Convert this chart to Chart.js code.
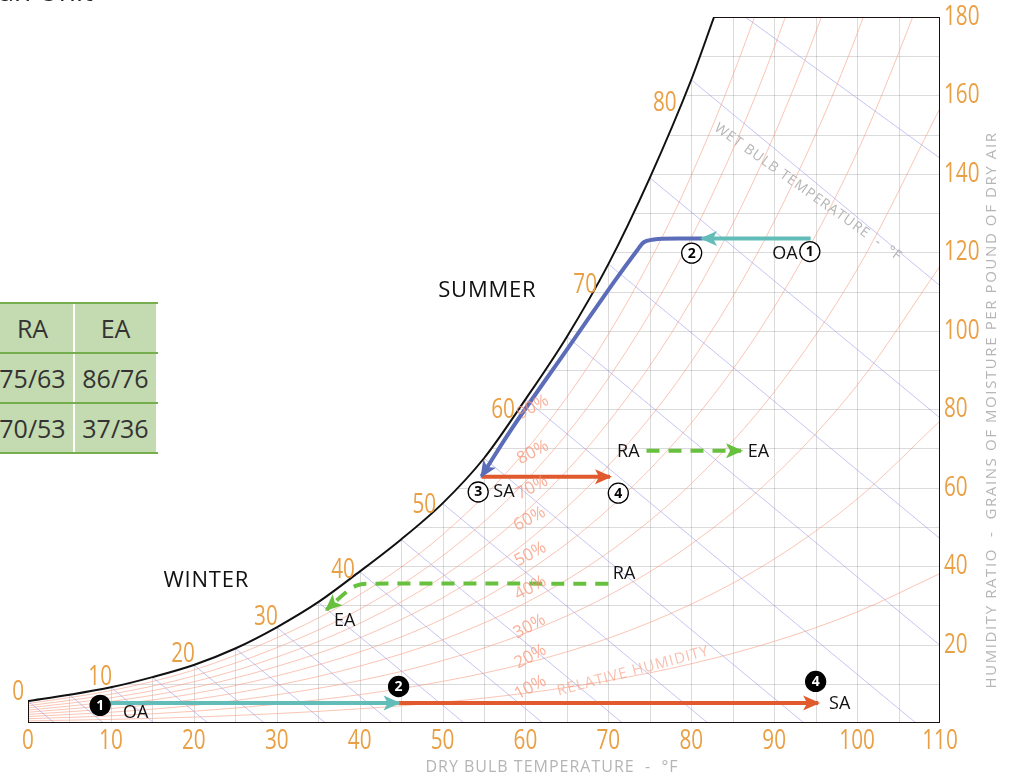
<!DOCTYPE html>
<html>
<head>
<meta charset="utf-8">
<script src="https://cdn.jsdelivr.net/npm/chart.js@4.4.1/dist/chart.umd.min.js"></script>
<style>
  html, body { margin: 0; padding: 0; background: #fff; overflow: hidden; }
  #wrap { position: relative; width: 1011px; height: 779px; }
  #chart { position: absolute; left: 0; top: 0; }
  #cut-title { position: absolute; left: -16px; top: -24px; font: 28px/1 'Open Sans'; color: #222; white-space: nowrap; }
  #legend-table { position: absolute; left: -8px; top: 302px; background: #c4dab0; }
  .row { display: flex; height: 48px; border-top: 2px solid #76ad4f; }
  .row:last-child { border-bottom: 2px solid #76ad4f; }
  .cell { width: 81px; border-right: 2px solid #fff; display: flex; align-items: center; justify-content: center;
          font: 25px 'Open Sans'; color: #333; }
</style>
</head>
<body>
<div id="wrap">
  <canvas id="chart" width="1011" height="779"></canvas>
  <div id="cut-title">Fan Unit</div>
  <div id="legend-table"></div>
</div>
<script>
// Sättigungskurve, Trockentemperatur °F / grains
const satTemps = [0, 5, 10, 15, 20, 25, 30, 35, 40, 45, 50, 55, 60, 65, 70, 75, 80, 82.75];
const satGrains = [5.6, 7.2, 9.1, 11.7, 14.8, 19.0, 24.4, 30.8, 38.6, 46.8, 56.0, 67.5, 82.5, 98.5, 117, 139, 164, 180];

// relative Feuchte
const rhTemps = [0, 10, 20, 30, 40, 50, 60, 70, 80, 90, 100, 110];
const rh10 = [0.55, 0.92, 1.50, 2.40, 3.61, 5.28, 7.61, 10.8, 15.1, 20.8, 28.3, 38.1];
const rh20 = [1.10, 1.83, 2.99, 4.79, 7.22, 10.6, 15.2, 21.6, 30.3, 41.8, 57.1, 77.0];
const rh30 = [1.65, 2.75, 4.49, 7.19, 10.8, 15.9, 22.9, 32.5, 45.6, 63.0, 86.1, 116.5];
const rh40 = [2.19, 3.67, 5.99, 9.60, 14.5, 21.2, 30.6, 43.5, 61.0, 84.4, 115.6, 156.7];
const rh50 = [2.74, 4.58, 7.49, 12.0, 18.1, 26.5, 38.3, 54.5, 76.5, 106.0, 145.5, 197.6];
const rh60 = [3.29, 5.50, 9.00, 14.4, 21.7, 31.9, 46.0, 65.6, 92.1, 127.9, 175.7, 239.3];
const rh70 = [3.84, 6.42, 10.5, 16.8, 25.4, 37.3, 53.8, 76.7, 107.8, 149.9, 206.4, 281.9];
const rh80 = [4.39, 7.34, 12.0, 19.2, 29.0, 42.6, 61.6, 87.9, 123.7, 172.2, 237.5, 325.1];
const rh90 = [4.94, 8.26, 13.5, 21.7, 32.7, 48.0, 69.4, 99.1, 139.6, 194.7, 269.1, 369.2];
const rhLines = [rh10, rh20, rh30, rh40, rh50, rh60, rh70, rh80, rh90];
const rhLabels = ['10%', '20%', '30%', '40%', '50%', '60%', '70%', '80%', '90%'];

// Feuchtkugellinien: Start auf der Sättigungskurve (85 °F beginnt am oberen Rand)
const wbStartTemps = [0, 5, 10, 15, 20, 25, 30, 35, 40, 45, 50, 55, 60, 65, 70, 75, 80, 86.5];
const wbStartGrains = [5.6, 7.2, 9.1, 11.7, 14.8, 19.0, 24.4, 30.8, 38.6, 46.8, 56.0, 67.5, 82.5, 98.5, 117, 139, 164, 180];
const wbEndTemps = [3.2, 9.1, 15.2, 21.7, 28.5, 35.9, 43.9, 52.6, 62.1, 71.7, 82, 93.6, 107.1, 110, 110, 110, 110, 110];
const wbEndGrains = [0, 0, 0, 0, 0, 0, 0, 0, 0, 0, 0, 0, 0, 19.8, 47, 77.8, 111.5, 144];
const wbLabelTemps = [0, 10, 20, 30, 40, 50, 60, 70, 80];

// Prozesslinien Sommer
const summerOaT = [94.4, 81.3];
const summerOaW = [123.5, 123.5];
const coilT = [81.3, 76.0, 74.3, 73.5, 70.6, 65.0, 58.5, 54.7];
const coilW = [123.5, 123.4, 122.6, 120.6, 112.2, 95.2, 75.5, 62.9];
const reheatT = [54.7, 70.2];
const reheatW = [62.8, 62.8];
const summerExT = [74.6, 86.0];
const summerExW = [69.4, 69.4];
// Prozesslinien Winter
const winterOaT = [9.9, 44.7];
const winterOaW = [5.1, 5.1];
const heatT = [44.7, 95.3];
const heatW = [5.1, 5.1];
const winterExT = [70.0, 40.8, 39.6, 38.4, 36.0];
const winterExW = [35.5, 35.5, 35.0, 33.4, 28.9];

// Tabelle
const tableHeader = ['RA', 'EA'];
const tableRows = [['75/63', '86/76'], ['70/53', '37/36']];

const ORANGE = '#e9a045';
const GREY = '#b5b5b5';
const FONT = "'Open Sans'";

const pts = (xs, ys) => xs.map((v, i) => ({x: v, y: ys[i]}));

// Tabelle aufbauen
const tbl = document.getElementById('legend-table');
[tableHeader, ...tableRows].forEach((r) => {
  const row = document.createElement('div');
  row.className = 'row';
  r.forEach((c) => {
    const cell = document.createElement('div');
    cell.className = 'cell';
    cell.textContent = c;
    row.appendChild(cell);
  });
  tbl.appendChild(row);
});

const datasets = [];
rhLines.forEach((arr) => {
  datasets.push({
    data: pts(rhTemps, arr), showLine: true, borderColor: 'rgba(246,150,120,0.55)',
    borderWidth: 1, cubicInterpolationMode: 'monotone', order: 6,
  });
});
wbStartTemps.forEach((t, i) => {
  datasets.push({
    data: [{x: t, y: wbStartGrains[i]}, {x: wbEndTemps[i], y: wbEndGrains[i]}],
    showLine: true, borderColor: 'rgba(150,150,235,0.55)', borderWidth: 1, order: 5,
  });
});
datasets.push({
  data: pts(satTemps, satGrains), showLine: true, borderColor: '#111', borderWidth: 2,
  cubicInterpolationMode: 'monotone', order: 3,
});
datasets.push({
  data: [{x: 0, y: satGrains[0]}, {x: 0, y: 0}, {x: 110, y: 0}, {x: 110, y: 180}, {x: 82.75, y: 180}],
  showLine: true, borderColor: '#1a1010', borderWidth: 2, order: 3,
});

const processes = [
  {t: summerOaT, w: summerOaW, color: '#62bdb8'},
  {t: coilT, w: coilW, color: '#5b6db8', tension: 0.35},
  {t: reheatT, w: reheatW, color: '#e05a2e'},
  {t: summerExT, w: summerExW, color: '#68c03f', dash: [13, 9]},
  {t: winterOaT, w: winterOaW, color: '#62bdb8'},
  {t: heatT, w: heatW, color: '#e05a2e'},
  {t: winterExT, w: winterExW, color: '#68c03f', dash: [13, 9], tension: 0.35},
];
processes.forEach((p) => {
  datasets.push({
    data: pts(p.t, p.w), showLine: true, borderColor: p.color, borderWidth: 4,
    borderDash: p.dash || [], tension: p.tension || 0, order: 1, arrow: true,
  });
});

// Beschriftungen
const markers = [
  {n: '1', t: 94.3, w: 120.2, filled: false},
  {n: '2', t: 80.05, w: 119.8, filled: false},
  {n: '3', t: 54.3, w: 58.9, filled: false},
  {n: '4', t: 71.2, w: 58.6, filled: false},
  {n: '1', t: 8.7, w: 4.5, filled: true},
  {n: '2', t: 44.7, w: 9.3, filled: true},
  {n: '4', t: 95.0, w: 10.6, filled: true},
];
const notes = [
  {s: 'OA', t: 91.3, w: 119.6},
  {s: 'SA', t: 57.4, w: 59.0},
  {s: 'RA', t: 72.4, w: 69.2},
  {s: 'EA', t: 88.1, w: 69.2},
  {s: 'RA', t: 71.9, w: 38.1},
  {s: 'EA', t: 38.2, w: 26.1},
  {s: 'OA', t: 13.0, w: 2.7},
  {s: 'SA', t: 97.9, w: 5.0},
];
const seasons = [
  {s: 'SUMMER', t: 55.4, w: 110.2},
  {s: 'WINTER', t: 21.5, w: 36.3},
];
const wbLabelPos = [[-1.2, 7.8], [8.7, 11.6], [18.7, 17.5], [28.7, 27.1], [38.0, 38.9],
  [47.8, 55.7], [57.3, 79.9], [67.2, 111.7], [76.8, 158.1]];
const rhLabelPos = [[60.6, 9.0], [60.6, 16.9], [60.5, 24.6], [60.6, 34.4], [60.6, 43.0],
  [60.5, 52.0], [60.8, 60.0], [60.9, 69.0], [60.9, 80.5]];

function drawText(ctx, str, px, py, o) {
  ctx.save();
  ctx.translate(px, py);
  ctx.rotate(((o.angle || 0) * Math.PI) / 180);
  if (o.squeeze) ctx.scale(o.squeeze, 1);
  ctx.font = o.font;
  ctx.fillStyle = o.color;
  ctx.letterSpacing = (o.spacing || 0) + 'px';
  ctx.textAlign = o.align || 'center';
  ctx.textBaseline = 'middle';
  ctx.fillText(str, 0, 0);
  ctx.restore();
}
// schmale, hohe Ziffern wie im Original
const numStyle = (align) => ({font: `28px ${FONT}`, color: ORANGE, squeeze: 0.74, align});

const psychroPlugin = {
  id: 'psychro',
  beforeDatasetsDraw(chart) {
    const {ctx, scales: {x, y}} = chart;
    ctx.save();
    ctx.beginPath();
    satTemps.forEach((t, i) => {
      const px = x.getPixelForValue(t);
      const py = y.getPixelForValue(satGrains[i]);
      if (i === 0) ctx.moveTo(px, py); else ctx.lineTo(px, py);
    });
    ctx.lineTo(x.getPixelForValue(110), y.getPixelForValue(180));
    ctx.lineTo(x.getPixelForValue(110), y.getPixelForValue(0));
    ctx.lineTo(x.getPixelForValue(0), y.getPixelForValue(0));
    ctx.closePath();
    ctx.clip();
    ctx.strokeStyle = 'rgba(0,0,0,0.14)';
    ctx.lineWidth = 1;
    ctx.beginPath();
    for (let t = 5; t < 110; t += 5) {
      const px = Math.round(x.getPixelForValue(t)) + 0.5;
      ctx.moveTo(px, y.top);
      ctx.lineTo(px, y.bottom);
    }
    for (let w = 10; w < 180; w += 10) {
      const py = Math.round(y.getPixelForValue(w)) + 0.5;
      ctx.moveTo(x.left, py);
      ctx.lineTo(x.right, py);
    }
    ctx.stroke();
    ctx.restore();
  },
  afterDatasetsDraw(chart) {
    const {ctx, scales: {x, y}} = chart;
    const X = (v) => x.getPixelForValue(v);
    const Y = (v) => y.getPixelForValue(v);

    // Achsenbeschriftung aus den Ticks der Skalen
    x.ticks.forEach((tk) => drawText(ctx, String(tk.value), X(tk.value), y.bottom + 18, numStyle('center')));
    y.ticks.forEach((tk) => {
      if (tk.value === 0) return;
      drawText(ctx, String(tk.value), x.right + 4, Y(tk.value), numStyle('left'));
    });

    // Pfeilspitzen
    chart.data.datasets.forEach((ds, i) => {
      if (!ds.arrow) return;
      const el = chart.getDatasetMeta(i).data;
      const a = el[el.length - 2];
      const b = el[el.length - 1];
      const ang = Math.atan2(b.y - a.y, b.x - a.x);
      ctx.save();
      ctx.translate(b.x, b.y);
      ctx.rotate(ang);
      ctx.fillStyle = ds.borderColor;
      ctx.beginPath();
      ctx.moveTo(2, 0);
      ctx.lineTo(-15, -7.5);
      ctx.lineTo(-11, 0);
      ctx.lineTo(-15, 7.5);
      ctx.closePath();
      ctx.fill();
      ctx.restore();
    });

    // Feuchtkugeltemperaturen
    wbLabelTemps.forEach((t, i) => {
      drawText(ctx, String(t), X(wbLabelPos[i][0]), Y(wbLabelPos[i][1]), numStyle('center'));
    });
    // relative Feuchte
    rhLabels.forEach((s, i) => {
      drawText(ctx, s, X(rhLabelPos[i][0]), Y(rhLabelPos[i][1]),
        {font: `17px ${FONT}`, color: 'rgba(246,150,120,0.75)', angle: -28});
    });
    drawText(ctx, 'RELATIVE HUMIDITY', X(73.0), Y(13.2),
      {font: `15px ${FONT}`, color: 'rgba(246,150,120,0.6)', angle: -15, spacing: 1});
    drawText(ctx, 'WET BULB TEMPERATURE  -  °F', X(94.1), Y(135.3),
      {font: `14px ${FONT}`, color: GREY, angle: 35.5, spacing: 1});

    // Achsentitel
    drawText(ctx, 'DRY BULB TEMPERATURE  -  °F', (x.left + x.right) / 2 + 68, 767,
      {font: `16px ${FONT}`, color: GREY, spacing: 1});
    drawText(ctx, 'HUMIDITY RATIO  -  GRAINS OF MOISTURE PER POUND OF DRY AIR', 992, 410,
      {font: `15px ${FONT}`, color: GREY, angle: -90, spacing: 1.6});

    // Jahreszeiten und Punkte
    seasons.forEach((s) => drawText(ctx, s.s, X(s.t), Y(s.w),
      {font: `22px ${FONT}`, color: '#111', spacing: 0.8}));
    notes.forEach((n) => drawText(ctx, n.s, X(n.t), Y(n.w),
      {font: `18px ${FONT}`, color: '#111'}));
    markers.forEach((m) => {
      const px = X(m.t);
      const py = Y(m.w);
      ctx.save();
      ctx.beginPath();
      ctx.arc(px, py, 10, 0, Math.PI * 2);
      ctx.fillStyle = m.filled ? '#000' : '#fff';
      ctx.fill();
      ctx.lineWidth = 1.3;
      ctx.strokeStyle = '#000';
      ctx.stroke();
      ctx.restore();
      drawText(ctx, m.n, px, py + 0.5,
        {font: `bold 14px ${FONT}`, color: m.filled ? '#fff' : '#000'});
    });
  },
};

new Chart(document.getElementById('chart').getContext('2d'), {
  type: 'scatter',
  data: {datasets},
  options: {
    animation: false,
    responsive: false,
    devicePixelRatio: 1,
    layout: {padding: {left: 28, top: 17, right: 0, bottom: 0}},
    elements: {point: {radius: 0, hoverRadius: 0}},
    plugins: {legend: {display: false}, tooltip: {enabled: false}},
    scales: {
      x: {
        type: 'linear', min: 0, max: 110,
        grid: {display: false}, border: {display: false},
        ticks: {stepSize: 10, display: false},
        afterFit(s) { s.height = 56; },
      },
      y: {
        type: 'linear', position: 'right', min: 0, max: 180,
        grid: {display: false}, border: {display: false},
        ticks: {stepSize: 20, display: false},
        afterFit(s) { s.width = 71; },
      },
    },
  },
  plugins: [psychroPlugin],
});
</script>
</body>
</html>
